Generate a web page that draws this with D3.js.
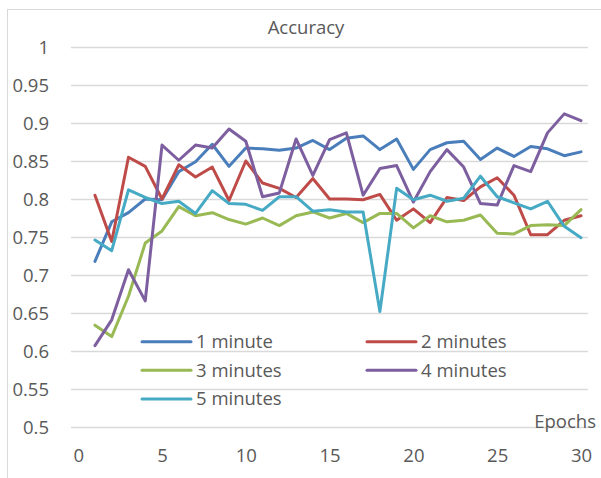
<!DOCTYPE html>
<html>
<head>
<meta charset="utf-8">
<script src="https://cdn.jsdelivr.net/npm/d3@7"></script>
<style>
  html, body { margin: 0; padding: 0; background: #fff; }
  svg { display: block; }
  text { font-family: "Open Sans", "Liberation Sans", sans-serif; fill: #595959; }
</style>
</head>
<body>
<svg id="chart" width="601" height="478"></svg>
<script>
// Accuracy per training epoch for different window lengths
const epochs = d3.range(1, 31);
const seriesNames = ["1 minute", "2 minutes", "3 minutes", "4 minutes", "5 minutes"];
const seriesColors = ["#4a7ebb", "#be4b48", "#98b954", "#7d5fa0", "#46aac5"];

const oneMinute = [0.718, 0.770, 0.782, 0.800, 0.799, 0.836, 0.849, 0.872, 0.843, 0.867,
                   0.866, 0.864, 0.867, 0.877, 0.865, 0.880, 0.883, 0.865, 0.879, 0.839,
                   0.865, 0.874, 0.876, 0.852, 0.867, 0.856, 0.869, 0.866, 0.857, 0.862];
const twoMinutes = [0.805, 0.744, 0.855, 0.843, 0.800, 0.845, 0.829, 0.842, 0.798, 0.850,
                    0.821, 0.814, 0.802, 0.827, 0.800, 0.800, 0.799, 0.806, 0.772, 0.787,
                    0.769, 0.802, 0.798, 0.816, 0.828, 0.805, 0.753, 0.753, 0.772, 0.778];
const threeMinutes = [0.634, 0.619, 0.672, 0.742, 0.758, 0.790, 0.778, 0.782, 0.773, 0.767,
                      0.775, 0.765, 0.778, 0.783, 0.775, 0.781, 0.769, 0.781, 0.781, 0.762,
                      0.778, 0.770, 0.772, 0.779, 0.755, 0.754, 0.765, 0.766, 0.765, 0.786];
const fourMinutes = [0.607, 0.641, 0.707, 0.666, 0.871, 0.851, 0.871, 0.867, 0.892, 0.876,
                     0.803, 0.808, 0.879, 0.831, 0.878, 0.887, 0.805, 0.840, 0.844, 0.796,
                     0.836, 0.865, 0.842, 0.794, 0.792, 0.844, 0.836, 0.887, 0.912, 0.903];
const fiveMinutes = [0.746, 0.732, 0.812, 0.802, 0.794, 0.797, 0.781, 0.811, 0.794, 0.793,
                     0.785, 0.803, 0.803, 0.784, 0.786, 0.783, 0.783, 0.652, 0.814, 0.799,
                     0.805, 0.797, 0.801, 0.830, 0.803, 0.795, 0.787, 0.797, 0.764, 0.749];
const seriesValues = [oneMinute, twoMinutes, threeMinutes, fourMinutes, fiveMinutes];

const yTicks = [0.5, 0.55, 0.6, 0.65, 0.7, 0.75, 0.8, 0.85, 0.9, 0.95, 1];
const xTicks = [0, 5, 10, 15, 20, 25, 30];

const svg = d3.select("#chart");

// chart frame
svg.append("rect")
  .attr("x", 7.5).attr("y", 9.5)
  .attr("width", 620).attr("height", 500)
  .attr("fill", "#fff")
  .attr("stroke", "#d9d9d9").attr("stroke-width", 1);

const x = d3.scaleLinear().domain([0, 30]).range([78.2, 581]);
const y = d3.scaleLinear().domain([0.5, 1]).range([427, 47]);
const gridLeft = 71, gridRight = 588;

// horizontal gridlines
svg.append("g")
  .selectAll("line")
  .data(yTicks)
  .join("line")
  .attr("x1", gridLeft).attr("x2", gridRight)
  .attr("y1", d => Math.round(y(d)) + 0.5)
  .attr("y2", d => Math.round(y(d)) + 0.5)
  .attr("stroke", "#d9d9d9").attr("stroke-width", 1.5);

// y axis labels
const yAxis = d3.axisLeft(y).tickValues(yTicks).tickSize(0).tickPadding(0)
  .tickFormat(d => d3.format("")(+d.toFixed(2)));
svg.append("g")
  .attr("transform", "translate(49,0)")
  .call(yAxis)
  .call(g => g.select(".domain").remove())
  .call(g => g.selectAll("text")
    .attr("font-family", null).attr("fill", null)
    .style("font-size", "18.5px").attr("dy", "0.35em"));

// x axis labels
const xAxis = d3.axisBottom(x).tickValues(xTicks).tickSize(0).tickPadding(0)
  .tickFormat(d3.format("d"));
svg.append("g")
  .attr("transform", "translate(0,456)")
  .call(xAxis)
  .call(g => g.select(".domain").remove())
  .call(g => g.selectAll("text")
    .attr("font-family", null).attr("fill", null)
    .style("font-size", "18.5px").attr("dy", "0.35em"));

// series lines
const line = d3.line()
  .x((d, i) => x(epochs[i]))
  .y(d => y(d));

svg.append("g")
  .selectAll("path")
  .data(seriesValues)
  .join("path")
  .attr("d", line)
  .attr("fill", "none")
  .attr("stroke", (d, i) => seriesColors[i])
  .attr("stroke-width", 3)
  .attr("stroke-linejoin", "round")
  .attr("stroke-linecap", "round");

// title and axis title
svg.append("text")
  .attr("x", 306).attr("y", 28).attr("dy", "0.35em")
  .attr("text-anchor", "middle")
  .style("font-size", "18.5px")
  .text("Accuracy");

svg.append("text")
  .attr("x", 596).attr("y", 422).attr("dy", "0.35em")
  .attr("text-anchor", "end")
  .style("font-size", "18.5px")
  .text("Epochs");

// legend, two columns
const legendCols = [142, 367];
const legendRows = [341.7, 370.3, 399];
const legend = svg.append("g")
  .selectAll("g")
  .data(seriesNames)
  .join("g")
  .attr("transform", (d, i) => `translate(${legendCols[i % 2]},${legendRows[Math.floor(i / 2)]})`);

legend.append("line")
  .attr("x1", 0).attr("x2", 49)
  .attr("y1", 0).attr("y2", 0)
  .attr("stroke", (d, i) => seriesColors[i])
  .attr("stroke-width", 3)
  .attr("stroke-linecap", "round");

legend.append("text")
  .attr("x", 54).attr("y", 0).attr("dy", "0.35em")
  .style("font-size", "18.5px")
  .text(d => d);
</script>
</body>
</html>
